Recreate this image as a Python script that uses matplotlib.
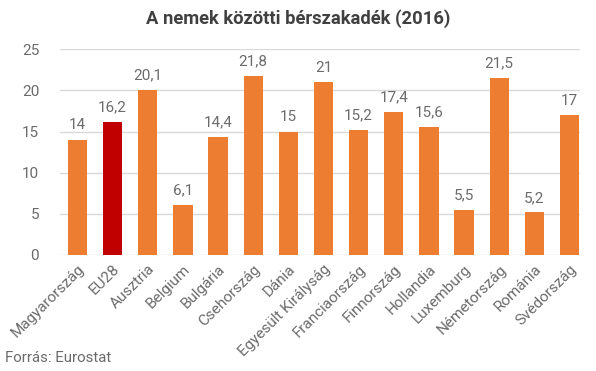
import matplotlib.pyplot as plt
import numpy as np

plt.rcParams['font.family'] = ['Roboto', 'DejaVu Sans']

countries = ["Magyarország", "EU28", "Ausztria", "Belgium", "Bulgária", "Csehország",
             "Dánia", "Egyesült Királyság", "Franciaország", "Finnország", "Hollandia",
             "Luxemburg", "Németország", "Románia", "Svédország"]
values = [14, 16.2, 20.1, 6.1, 14.4, 21.8, 15, 21, 15.2, 17.4, 15.6, 5.5, 21.5, 5.2, 17]
highlight = "EU28"

orange = "#ED7D31"
red = "#C00000"
grey = "#6b6b6b"

fig = plt.figure(figsize=(5.96, 3.71), dpi=100)
ax = fig.add_axes([60 / 596, 1 - 255 / 371, 520 / 596, (255 - 49.3) / 371])

x = np.arange(len(countries))
colors = [red if c == highlight else orange for c in countries]
ax.bar(x, values, width=0.55, color=colors, zorder=2)

for xi, v in zip(x, values):
    ax.text(xi, v + 0.9, f"{v:g}".replace(".", ","), ha="center", va="bottom",
            fontsize=11, color=grey)

ax.set_ylim(0, 25)
ax.set_xlim(-0.5, 14.3)
ax.set_yticks(range(0, 26, 5))
ax.yaxis.grid(True, color="#d9d9d9", linewidth=1, zorder=0)
ax.tick_params(axis="both", length=0, labelsize=11, labelcolor=grey)
ax.tick_params(axis="y", pad=15)
ax.tick_params(axis="x", pad=5)
ax.set_xticks(x)
ax.set_xticklabels(countries, rotation=45, ha="right", rotation_mode="anchor")
for s in ax.spines.values():
    s.set_visible(False)

fig.text(0.5, 1 - 19 / 371, "A nemek közötti bérszakadék (2016)", ha="center", va="center",
         fontsize=13.2, fontweight="bold", color="#404040")
fig.text(5 / 596, 1 - 358 / 371, "Forrás: Eurostat", ha="left", va="center",
         fontsize=10.8, color=grey)

fig.savefig("out.png", dpi=100)
